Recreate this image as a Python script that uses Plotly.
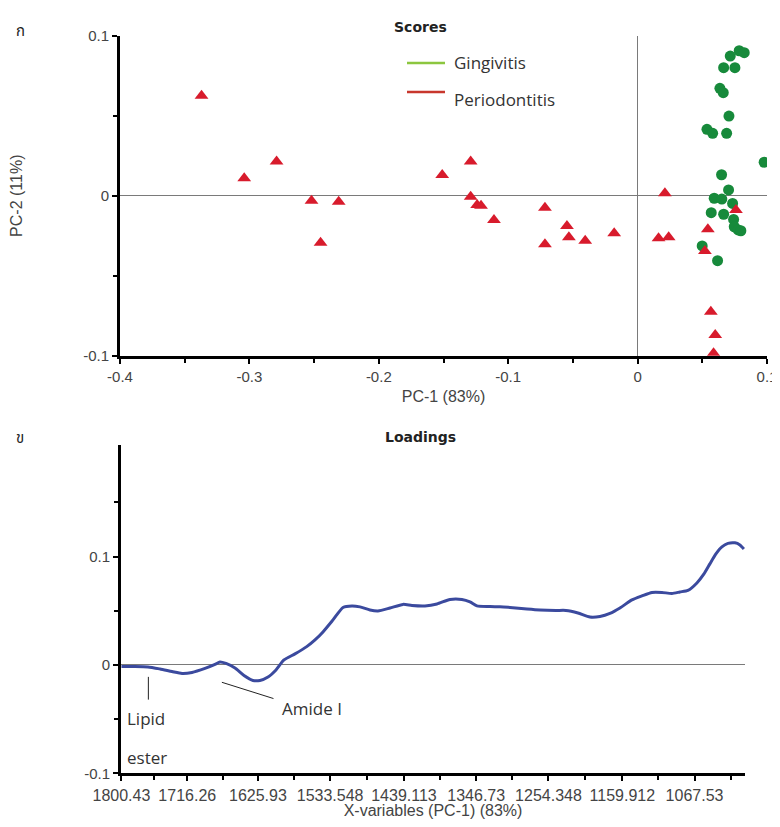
import plotly.graph_objects as go

# figure size chosen so that figure + default 8px page margin fits the 780x827 window
PAGE_MARGIN = 8
W, H = 780 - PAGE_MARGIN, 827 - 2 * PAGE_MARGIN

# ---------------- data ----------------
# Scores: Gingivitis (green circles)
ging_pc1 = [0.0785, 0.0824, 0.0716, 0.0665, 0.0752, 0.0636, 0.0662, 0.0706, 0.0536, 0.0580,
            0.0688, 0.0978, 0.0649, 0.0703, 0.0592, 0.0651, 0.0734, 0.0569, 0.0665, 0.0742,
            0.0747, 0.0777, 0.0798, 0.0499, 0.0618]
ging_pc2 = [0.0906, 0.0894, 0.0873, 0.0800, 0.0800, 0.0671, 0.0644, 0.0498, 0.0415, 0.0390,
            0.0390, 0.0209, 0.0131, 0.0036, -0.0016, -0.0021, -0.0048, -0.0106, -0.0116, -0.0148,
            -0.0194, -0.0214, -0.0219, -0.0314, -0.0406]

# Scores: Periodontitis (red triangles)
perio_pc1 = [-0.337, -0.304, -0.279, -0.252, -0.231, -0.245, -0.151, -0.129, -0.129, -0.124,
             -0.121, -0.111, -0.0716, -0.0716, -0.0546, -0.0531, -0.0405, -0.0181, 0.0211, 0.0162,
             0.0240, 0.0543, 0.0520, 0.0760, 0.0566, 0.0600, 0.0587]
perio_pc2 = [0.0625, 0.0109, 0.0213, -0.0031, -0.0038, -0.0294, 0.0129, 0.0213, -0.0006, -0.0058,
             -0.0063, -0.0152, -0.0075, -0.0304, -0.0189, -0.0260, -0.0281, -0.0235, 0.0015, -0.0266,
             -0.0260, -0.0210, -0.0346, -0.0089, -0.0725, -0.0870, -0.0985]

# Loadings PC-1 vs wavenumber
wavenumber = [1800.4, 1783.1, 1766.5, 1751.1, 1735.8, 1723.0, 1710.2, 1693.6, 1680.8, 1674.4,
              1666.7, 1655.2, 1643.7, 1632.2, 1623.3, 1613.0, 1602.8, 1592.6, 1578.5, 1563.5,
              1552.9, 1542.7, 1529.9, 1517.1, 1505.6, 1495.4, 1482.6, 1472.4, 1457.0, 1440.4,
              1428.9, 1412.3, 1396.9, 1380.3, 1365.0, 1354.7, 1345.8, 1329.1, 1316.4, 1303.6,
              1281.8, 1265.2, 1244.8, 1232.0, 1216.6, 1201.3, 1188.5, 1175.7, 1162.9, 1147.6,
              1134.8, 1122.0, 1109.2, 1096.4, 1086.2, 1076.0, 1064.5, 1055.5, 1047.9, 1040.2,
              1032.5, 1024.8, 1015.9, 1009.5, 1004.4]
loading = [-0.0014, -0.0014, -0.0018, -0.0037, -0.0060, -0.0078, -0.0069, -0.0032, 0.0005, 0.0028,
           0.0014, -0.0028, -0.0097, -0.0143, -0.0143, -0.0111, -0.0046, 0.0046, 0.0102, 0.0169,
           0.0231, 0.0305, 0.0416, 0.0531, 0.0545, 0.0536, 0.0508, 0.0499, 0.0526, 0.0559,
           0.0549, 0.0545, 0.0563, 0.0605, 0.0605, 0.0582, 0.0545, 0.0540, 0.0536, 0.0531,
           0.0517, 0.0508, 0.0503, 0.0503, 0.0480, 0.0443, 0.0448, 0.0476, 0.0526, 0.0600,
           0.0637, 0.0669, 0.0669, 0.0660, 0.0674, 0.0688, 0.0757, 0.0840, 0.0933, 0.1025,
           0.1090, 0.1122, 0.1127, 0.1108, 0.1071]

# tick labels
score_x_ticks = [-0.4, -0.3, -0.2, -0.1, 0, 0.1]
score_x_text = ["-0.4", "-0.3", "-0.2", "-0.1", "0", "0.1"]
score_y_ticks = [-0.1, 0, 0.1]
score_y_text = ["-0.1", "0", "0.1"]
load_y_ticks = [-0.1, 0, 0.1]
load_y_text = ["-0.1", "0", "0.1"]
load_x_ticks = [1800.43, 1716.26, 1625.93, 1533.548, 1439.113, 1346.73, 1254.348, 1159.912, 1067.53]
load_x_text = ["1800.43", "1716.26", "1625.93", "1533.548", "1439.113", "1346.73", "1254.348", "1159.912", "1067.53"]

# annotation anchors (data coords on loadings)
lipid_wn = 1766.0
amide_wn = 1672.0

# ---------------- helpers (screen pixel -> paper fraction) ----------------
def px(x):
    return (x - PAGE_MARGIN) / W

def py(y):
    return 1 - (y - PAGE_MARGIN) / H

TICKFONT = dict(family="Liberation Sans, Arial, sans-serif", size=15, color="#444444")
XTICKFONT2 = dict(family="Liberation Sans, Arial, sans-serif", size=16, color="#444444")
TITLEFONT = dict(family="Liberation Sans, Arial, sans-serif", size=16, color="#444444")
NOTEFONT = dict(family="Open Sans, Noto Sans, sans-serif", size=17, color="#333333")

fig = go.Figure()

fig.add_trace(go.Scatter(x=ging_pc1, y=ging_pc2, mode="markers", name="Gingivitis",
                         marker=dict(symbol="circle", size=11, color="#178A3B"),
                         xaxis="x", yaxis="y"))
fig.add_trace(go.Scatter(x=perio_pc1, y=perio_pc2, mode="markers", name="Periodontitis",
                         marker=dict(symbol="triangle-up", size=12, color="#D81B2C"),
                         xaxis="x", yaxis="y"))
fig.add_trace(go.Scatter(x=wavenumber, y=loading, mode="lines", name="PC-1",
                         line=dict(color="#3B4A9E", width=3, shape="spline", smoothing=0.6),
                         xaxis="x2", yaxis="y2"))

axis_common = dict(showgrid=False, showline=True, linecolor="black", linewidth=3,
                   ticks="outside", ticklen=5, tickwidth=1.5, tickcolor="black",
                   mirror=False, automargin=False)

fig.update_layout(
    template="none",
    width=W, height=H,
    margin=dict(l=0, r=0, t=0, b=0),
    paper_bgcolor="white", plot_bgcolor="white",
    showlegend=False,
    xaxis=dict(domain=[px(120), px(767)], range=[-0.4, 0.1], anchor="y",
               tickmode="array", tickvals=score_x_ticks, ticktext=score_x_text, tickfont=TICKFONT,
               ticklabeloverflow="allow",
               minor=dict(tickmode="array", tickvals=[-0.35, -0.25, -0.15, -0.05, 0.05],
                          ticks="outside", ticklen=4, tickcolor="black", tickwidth=1.5),
               zeroline=True, zerolinecolor="#7a7a7a", zerolinewidth=1,
               title=dict(text="PC-1 (83%)", font=TITLEFONT, standoff=8),
               **axis_common),
    yaxis=dict(domain=[py(355.7), py(35.7)], range=[-0.1, 0.1], anchor="x",
               tickmode="array", tickvals=score_y_ticks, ticktext=score_y_text, tickfont=TICKFONT,
               minor=dict(tickmode="array", tickvals=[-0.05, 0.05],
                          ticks="outside", ticklen=4, tickcolor="black", tickwidth=1.5),
               zeroline=True, zerolinecolor="#7a7a7a", zerolinewidth=1,
               title=dict(text="PC-2 (11%)", font=TITLEFONT, standoff=62),
               **axis_common),
    xaxis2=dict(domain=[px(121), px(745)], range=[1801, 1003], anchor="y2",
                tickmode="array", tickvals=load_x_ticks, ticktext=load_x_text, tickfont=XTICKFONT2,
                minor=dict(tickmode="array",
                           tickvals=[1758.3, 1671.1, 1579.7, 1486.3, 1392.9, 1300.5, 1207.1, 1113.7, 1021.0],
                           ticks="outside", ticklen=4, tickcolor="black", tickwidth=1.5),
                zeroline=False,
                title=dict(text="X-variables (PC-1) (83%)", font=TITLEFONT, standoff=1),
                **axis_common),
    yaxis2=dict(domain=[py(773.3), py(445)], range=[-0.1, 0.203], anchor="x2",
                tickmode="array", tickvals=load_y_ticks, ticktext=load_y_text, tickfont=TICKFONT,
                minor=dict(tickmode="array", tickvals=[-0.05, 0.05, 0.15],
                           ticks="outside", ticklen=4, tickcolor="black", tickwidth=1.5),
                zeroline=True, zerolinecolor="#7a7a7a", zerolinewidth=1,
                **axis_common),
)

annotations = [
    dict(text="<b>Scores</b>", x=px(420), y=py(17), xref="paper", yref="paper",
         showarrow=False, font=dict(family="DejaVu Sans, sans-serif", size=14, color="#222")),
    dict(text="<b>Loadings</b>", x=px(420), y=py(437), xref="paper", yref="paper",
         showarrow=False, font=dict(family="DejaVu Sans, sans-serif", size=14, color="#222")),
    dict(text="ก", x=px(14), y=py(18), xref="paper", yref="paper", showarrow=False,
         font=dict(family="Noto Sans Thai, Noto Sans, DejaVu Sans, sans-serif", size=15, color="#222")),
    dict(text="ข", x=px(14), y=py(438), xref="paper", yref="paper", showarrow=False,
         font=dict(family="Noto Sans Thai, Noto Sans, DejaVu Sans, sans-serif", size=15, color="#222")),
    dict(text="Gingivitis", x=px(452), y=py(63), xref="paper", yref="paper", xanchor="left",
         yanchor="middle", showarrow=False, font=NOTEFONT),
    dict(text="Periodontitis", x=px(452), y=py(100), xref="paper", yref="paper", xanchor="left",
         yanchor="middle", showarrow=False, font=NOTEFONT),
    dict(text="Lipid", x=px(125), y=py(718), xref="paper", yref="paper", xanchor="left",
         yanchor="middle", showarrow=False, font=NOTEFONT),
    dict(text="ester", x=px(125), y=py(757), xref="paper", yref="paper", xanchor="left",
         yanchor="middle", showarrow=False, font=NOTEFONT),
    dict(text="Amide I", x=px(280), y=py(708), xref="paper", yref="paper", xanchor="left",
         yanchor="middle", showarrow=False, font=NOTEFONT),
]
fig.update_layout(annotations=annotations)

shapes = [
    dict(type="line", xref="paper", yref="paper", x0=px(407), x1=px(445), y0=py(63), y1=py(63),
         line=dict(color="#8CC63F", width=2.5)),
    dict(type="line", xref="paper", yref="paper", x0=px(407), x1=px(445), y0=py(92), y1=py(92),
         line=dict(color="#C8372D", width=2.5)),
    dict(type="line", xref="x2", yref="y2", x0=lipid_wn, x1=lipid_wn, y0=-0.011, y1=-0.032,
         line=dict(color="#222", width=1)),
    dict(type="line", xref="x2", yref="y2", x0=amide_wn, x1=1606, y0=-0.016, y1=-0.031,
         line=dict(color="#222", width=1)),
]
fig.update_layout(shapes=shapes)

fig.write_html("out.html")
